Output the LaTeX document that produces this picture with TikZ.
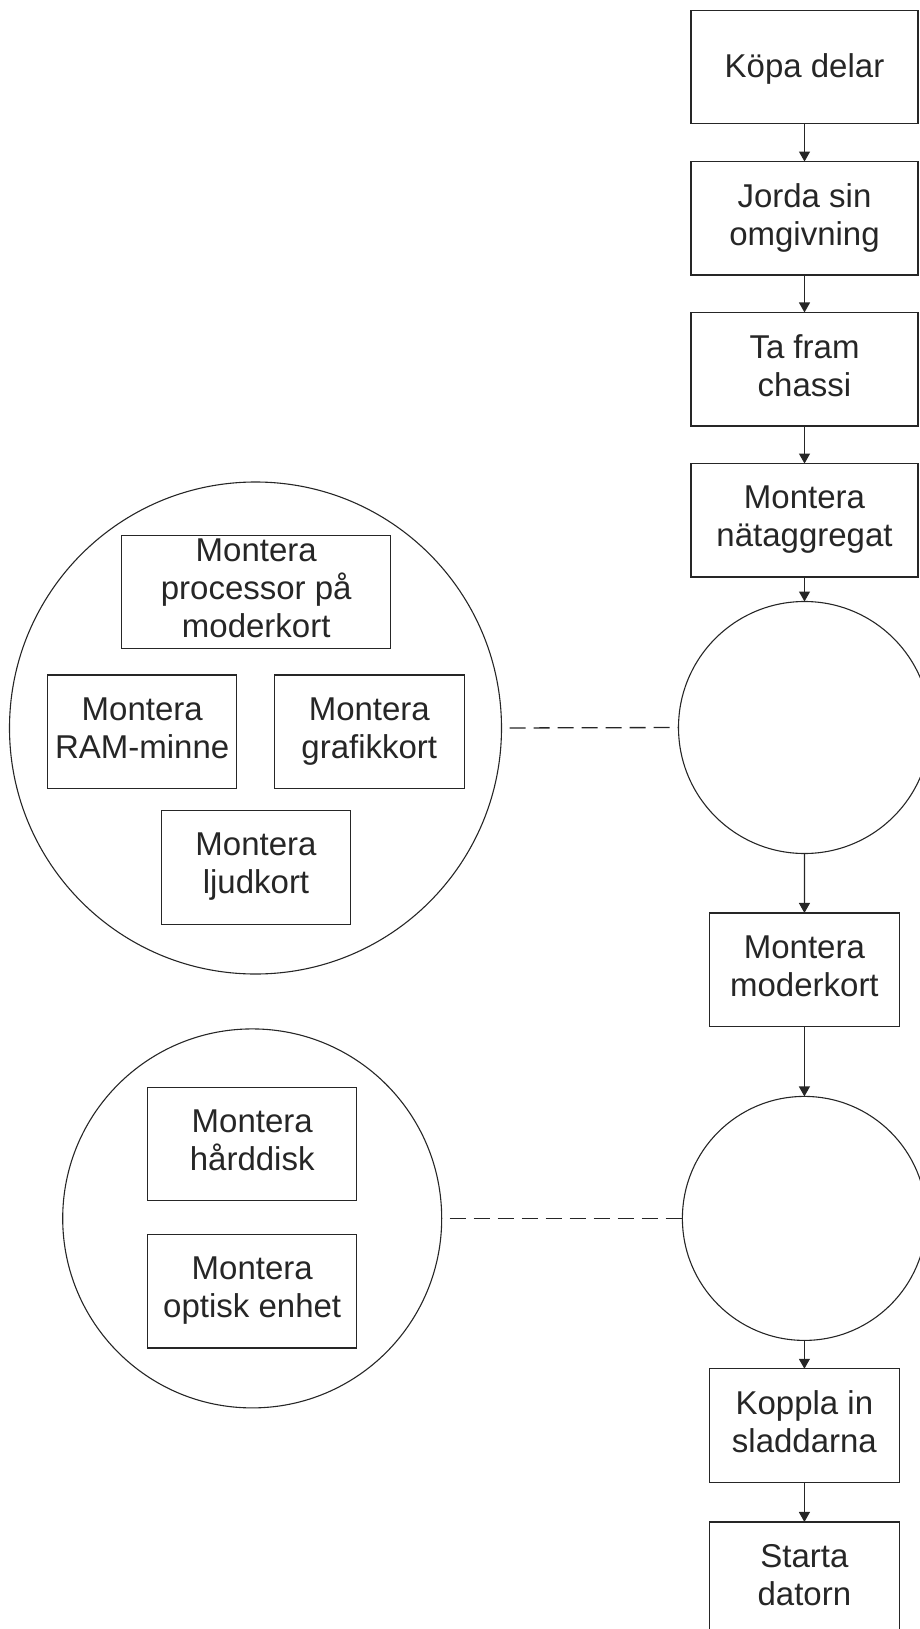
\documentclass[tikz,border=0pt]{standalone}
\usepackage{fontspec}
\setmainfont{Liberation Sans}
\usetikzlibrary{arrows.meta}
\definecolor{ink}{HTML}{262626}
\newcommand\topstrut{\rule{0pt}{30pt}}
\newcommand\botstrut{\rule[-8pt]{0pt}{8pt}}
\begin{document}
\begin{tikzpicture}[x=1pt,y=-1pt,
  every node/.style={inner sep=0pt, outer sep=0pt, text=ink,
    font=\fontsize{33}{38}\selectfont, align=center,
    execute at begin node=\topstrut, execute at end node=\botstrut},
  stepbox/.style={draw=ink, line width=1.2pt, rectangle,
    minimum width=#1, minimum height=113.5pt},
  stepbox/.default=227pt,
  ring/.style={draw=ink, line width=1.1pt, circle, minimum size=#1},
  arr/.style={draw=ink, line width=1.2pt, -{Triangle[length=10pt,width=11pt]}},
  link/.style={draw=ink, line width=1.3pt, dash pattern=on 16pt off 8pt, dash phase=-8pt}
]
\useasboundingbox (0,0) rectangle (920,1629);
\clip (0,0) rectangle (920,1629);

% main sequence on the right
\node[stepbox] (buy)     at (804.5,67)    {Köpa delar};
\node[stepbox] (ground)  at (804.5,218.3) {Jorda sin\\omgivning};
\node[stepbox] (chassis) at (804.5,369.2) {Ta fram\\chassi};
\node[stepbox] (psu)     at (804.5,520.3) {Montera\\nätaggregat};
\node[ring=252pt] (hub1) at (804.5,727.5) {};
\node[stepbox=190pt] (mobo)   at (804.4,969.7)  {Montera\\moderkort};
\node[ring=244pt] (hub2) at (804.4,1218.4) {};
\node[stepbox=190pt] (cables) at (804.4,1425.5) {Koppla in\\sladdarna};
\node[stepbox=190pt] (boot)   at (804.4,1578.7) {Starta\\datorn};

% first group of parallel tasks
\node[ring=492pt] (grpA) at (255.5,728) {};
\node[stepbox=269pt] (cpu)   at (256.2,592)   {Montera\\processor på\\moderkort};
\node[stepbox=189pt] (ram)   at (142.2,731.7) {Montera\\RAM-minne};
\node[stepbox=190pt] (gpu)   at (369.3,731.7) {Montera\\grafikkort};
\node[stepbox=189pt] (sound) at (256,867.4)   {Montera\\ljudkort};

% second group of parallel tasks
\node[ring=379pt] (grpB) at (252.2,1218.4) {};
\node[stepbox=209pt] (hdd) at (252.2,1143.9) {Montera\\hårddisk};
\node[stepbox=209pt] (odd) at (252.2,1291.3) {Montera\\optisk enhet};

% flow arrows
\draw[arr] (buy) -- (ground);
\draw[arr] (ground) -- (chassis);
\draw[arr] (chassis) -- (psu);
\draw[arr] (psu) -- (hub1);
\draw[arr] (hub1) -- (mobo);
\draw[arr] (mobo) -- (hub2);
\draw[arr] (hub2) -- (cables);
\draw[arr] (cables) -- (boot);

% dashed links from the groups to their steps
\draw[link] (grpA.east) -- (hub1.west);
\draw[link] (grpB.east) -- (hub2.west);
\end{tikzpicture}
\end{document}
